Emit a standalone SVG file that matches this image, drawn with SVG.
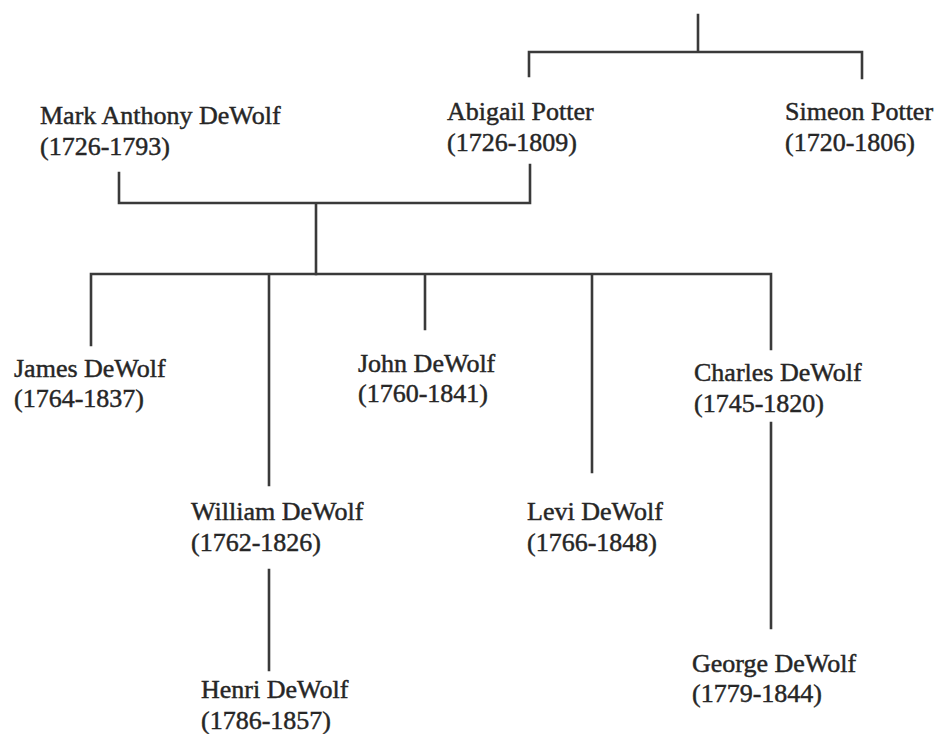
<svg xmlns="http://www.w3.org/2000/svg" width="939" height="734" viewBox="0 0 939 734">
<style>
text{font-family:"Liberation Serif","Times New Roman",serif;font-size:26px;fill:#262626;stroke:#262626;stroke-width:0.45}
.c{stroke:#3a3a3a;stroke-width:2.6;fill:none;stroke-linecap:square}
</style>
<rect width="939" height="734" fill="#fff"/>
<g id="connectors" class="c">
<path d="M698 15V52M529 76V52H862V78"/>
<path d="M119 173V203H530V165M316 203V274"/>
<path d="M91 345V274H771V349M269 274V485M425 274V329M592 274V472"/>
<path d="M269 570V670M771 423V628"/>
</g>
<g id="mark"><text x="40" y="124">Mark Anthony DeWolf</text><text x="40" y="155">(1726-1793)</text></g>
<g id="abigail"><text x="447" y="120">Abigail Potter</text><text x="447" y="151">(1726-1809)</text></g>
<g id="simeon"><text x="785" y="120">Simeon Potter</text><text x="785" y="151">(1720-1806)</text></g>
<g id="james"><text x="14" y="377">James DeWolf</text><text x="14" y="407">(1764-1837)</text></g>
<g id="john"><text x="358" y="372">John DeWolf</text><text x="358" y="402">(1760-1841)</text></g>
<g id="charles"><text x="694" y="381">Charles DeWolf</text><text x="694" y="412">(1745-1820)</text></g>
<g id="william"><text x="191" y="520">William DeWolf</text><text x="191" y="551">(1762-1826)</text></g>
<g id="levi"><text x="527" y="520">Levi DeWolf</text><text x="527" y="551">(1766-1848)</text></g>
<g id="henri"><text x="201" y="698">Henri DeWolf</text><text x="201" y="729">(1786-1857)</text></g>
<g id="george"><text x="692" y="672">George DeWolf</text><text x="692" y="702">(1779-1844)</text></g>
</svg>
